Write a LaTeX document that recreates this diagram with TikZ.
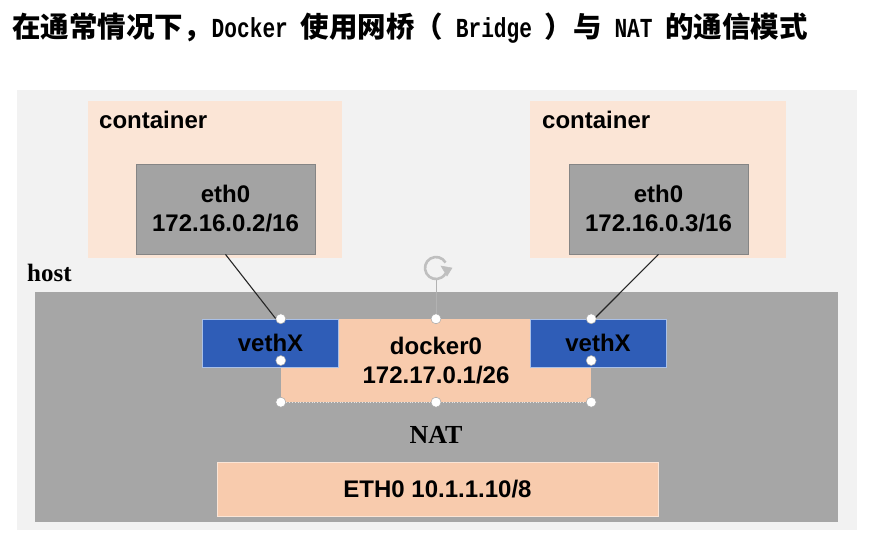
\documentclass[tikz,border=0pt]{standalone}
\usepackage{fontspec}
\usetikzlibrary{calc}
\setmainfont{Liberation Sans}
\newfontfamily\serifb{Liberation Serif}
\newfontfamily\cjk{Noto Sans CJK SC}
\newfontfamily\tmono{Liberation Mono}[FakeStretch=0.77]
\definecolor{panel}{HTML}{F2F2F2}
\definecolor{hostgray}{HTML}{A6A6A6}
\definecolor{contpeach}{HTML}{FBE5D6}
\definecolor{ethgray}{HTML}{A3A3A3}
\definecolor{ethborder}{HTML}{858585}
\definecolor{vethblue}{HTML}{2F5DB7}
\definecolor{vethborder}{HTML}{A9C0E8}
\definecolor{peach}{HTML}{F8CBAD}
\newcommand{\latin}[1]{{\fontsize{27.5}{30}\selectfont\tmono\bfseries #1}}
\tikzset{
  px/.style={x=1pt,y=-1pt},
  lbl/.style={font=\fontsize{24}{29}\selectfont\bfseries, align=center, inner sep=0pt},
  ethbox/.style={lbl, fill=ethgray, draw=ethborder, line width=0.8pt, minimum width=179pt, minimum height=90pt},
  vethbox/.style={lbl, fill=vethblue, draw=vethborder, line width=0.8pt, minimum width=136pt, minimum height=48pt},
  peachbox/.style={lbl, fill=peach},
  handle/.style={circle, fill=white, draw=gray!70, line width=0.5pt, minimum size=10pt, inner sep=0pt},
  link/.style={draw=black!85, line width=1.1pt},
}
\begin{document}
\begin{tikzpicture}[px]
\useasboundingbox (0,0) rectangle (889,549);
\fill[white] (0,0) rectangle (889,549);
% title
\node[anchor=west, inner sep=0pt, font=\fontsize{28.5}{31}\selectfont\cjk\bfseries] (title) at (12,28)
  {在通常情况下，\latin{Docker }使用网桥（\latin{\ Bridge }）与\latin{\ NAT }的通信模式};
% panels
\fill[panel] (17,90) rectangle (857,530);
\fill[contpeach] (88,101) rectangle (342,258);
\fill[contpeach] (530,101) rectangle (786,258);
\fill[hostgray] (35,292) rectangle (838,522);
% labels
\node[lbl, anchor=west] (contLlbl) at (99,120) {container};
\node[lbl, anchor=west] (contRlbl) at (542,120) {container};
\node[anchor=west, inner sep=0pt, font=\fontsize{25}{28}\selectfont\serifb\bfseries] (hostlbl) at (27,273) {host};
% eth0 boxes
\node[ethbox] (eth0L) at (225.5,209) {eth0\\172.16.0.2/16};
\node[ethbox] (eth0R) at (658.5,209) {eth0\\172.16.0.3/16};
% docker0
\node[peachbox, minimum width=310pt, minimum height=83pt] (docker0) at (436,360.5) {};
\node[lbl] (dtext) at (436,361) {docker0\\172.17.0.1/26};
\draw[white!80!gray, dotted, line width=0.8pt] (docker0.south west) -- (docker0.south east);
% vethX
\node[vethbox] (vethL) at (270.5,343) {vethX};
\node[vethbox] (vethR) at (598,343) {vethX};
% NAT and ETH0
\node[inner sep=0pt, font=\fontsize{26}{30}\selectfont\serifb\bfseries] (nat) at (436,435) {NAT};
\node[peachbox, draw=contpeach, line width=0.8pt, minimum width=441pt, minimum height=54pt] (eth0host) at (437.5,489) {ETH0 10.1.1.10/8};
% rotation handle
\coordinate (rot) at (436,268);
\draw[gray!60, line width=0.8pt] (docker0.north) -- (436,280);
\draw[gray!50, line width=2.6pt] ($(rot)+(-30:11)$) arc (-30:-330:11);
\draw[gray!50, fill=gray!50, line width=0.5pt] ($(rot)+(5,-2)$) -- ($(rot)+(16,0)$) -- ($(rot)+(11,8)$) -- cycle;
% connectors
\coordinate (vLtop) at (276,319);
\coordinate (vRtop) at (594,319);
\draw[link] (eth0L.south) -- (vLtop);
\draw[link] (eth0R.south) -- (vRtop);
% selection handles
\node[handle] (h1) at (docker0.north west) {};
\node[handle] (h2) at (docker0.north) {};
\node[handle] (h3) at (docker0.north east) {};
\node[handle] (h4) at (docker0.west) {};
\node[handle] (h5) at (docker0.east) {};
\node[handle] (h6) at (docker0.south west) {};
\node[handle] (h7) at (docker0.south) {};
\node[handle] (h8) at (docker0.south east) {};
\end{tikzpicture}
\end{document}
